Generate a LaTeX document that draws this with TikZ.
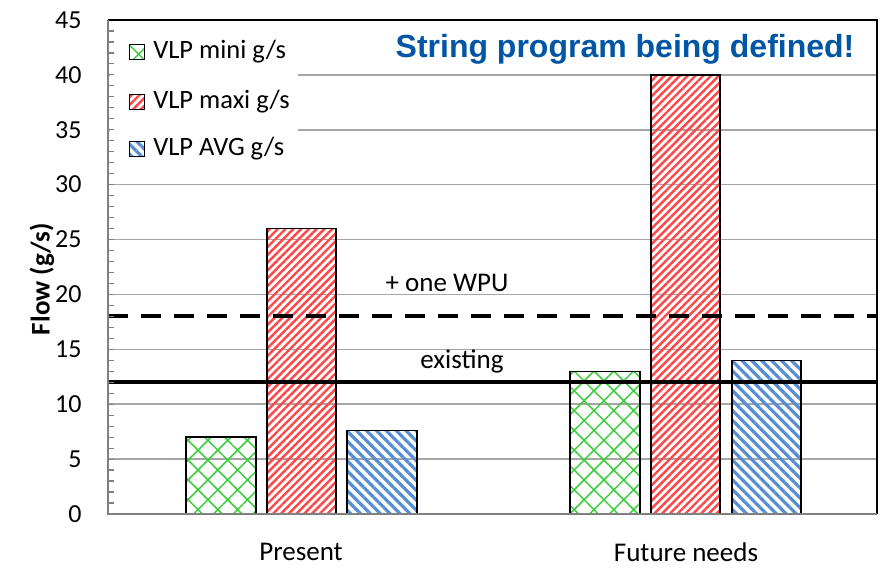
\documentclass[tikz,border=0pt]{standalone}
\usepackage{fontspec}
\setmainfont{Carlito}
\newfontfamily\arialfont{Liberation Sans}
\usetikzlibrary{patterns.meta,positioning}
\definecolor{titleblue}{RGB}{0,86,164}
\definecolor{minigreen}{RGB}{60,205,60}
\definecolor{maxired}{RGB}{255,70,70}
\definecolor{avgblue}{RGB}{85,142,213}

\begin{document}
\begin{tikzpicture}[x=1pt, y=10.978pt,
  gridline/.style={draw=black!35, line width=1.5pt},
  axisline/.style={draw=black!50, line width=2pt},
  barbox/.style={draw=black, line width=1.5pt},
  minibar/.style={barbox, pattern={Hatch[angle=45,distance=14pt,line width=1.5pt]}, pattern color=minigreen},
  maxibar/.style={barbox, pattern={Lines[angle=45,distance=5.5pt,line width=2.4pt]}, pattern color=maxired},
  avgbar/.style={barbox, pattern={Lines[angle=-45,distance=7pt,line width=3.2pt]}, pattern color=avgblue},
  ticklbl/.style={font=\fontsize{26}{28}\selectfont, anchor=east},
  lbl/.style={font=\fontsize{27}{30}\selectfont},
  leg/.style={font=\fontsize{26.5}{30}\selectfont, inner sep=0pt},
  key/.style={minimum size=15pt, inner sep=0pt, line width=1.2pt},
  lim/.style={draw=black, line width=4pt}
]
  \useasboundingbox (-108,-5.010) rectangle (775,46.821);
  \fill[white] (-108,-5.010) rectangle (775,46.821);

  % grid
  \foreach \v in {5,10,...,40}
    \draw[gridline] (0,\v) -- (769,\v);

  % legend area
  \fill[white] (2,30.6) rectangle (190,44.8);
  \node[minibar, key] (kmini) at (29,42.08) {};
  \node[maxibar, key] (kmaxi) at (29,37.53) {};
  \node[avgbar, key]  (kavg)  at (29,33.25) {};
  \node[leg, right=8pt of kmini] (lmini) {VLP mini g/s};
  \node[leg, right=8pt of kmaxi] (lmaxi) {VLP maxi g/s};
  \node[leg, right=8pt of kavg]  (lavg)  {VLP AVG g/s};

  % bars
  \draw[minibar] (78,0)  rectangle (148,7);
  \draw[maxibar] (159,0) rectangle (228,26);
  \draw[avgbar]  (239,0) rectangle (309,7.6);
  \draw[minibar] (462,0) rectangle (532,13);
  \draw[maxibar] (543,0) rectangle (612,40);
  \draw[avgbar]  (624,0) rectangle (693,14);

  % capacity lines
  \draw[lim] (0,12) -- (769,12);
  \draw[lim, dash pattern=on 20pt off 13pt] (0,18) -- (769,18);
  \node[lbl] (wpu) at (339,21.04) {+ one WPU};
  \node[lbl] (existing) at (354,13.85) {existing};

  % frame and axes
  \draw[black, line width=2pt] (0,45) -- (769,45) -- (769,0);
  \draw[axisline] (0,45) -- (0,0) -- (769,0);
  \foreach \v in {1,...,44}
    \draw[axisline, line width=1.2pt] (0,\v) -- (6,\v);
  \foreach \v in {0,5,...,45}
    \node[ticklbl] (t\v) at (-23,\v) {\v};

  \node[lbl, font=\fontsize{27}{30}\selectfont\bfseries, rotate=90] (ylabel) at (-66,21.4) {Flow (g/s)};
  \node[lbl] (present) at (193,-3.46) {Present};
  \node[lbl] (future) at (578,-3.46) {Future needs};

  \node[font=\arialfont\bfseries\fontsize{32}{36}\selectfont, text=titleblue] (title) at (517,42.36) {String program being defined!};
\end{tikzpicture}
\end{document}
